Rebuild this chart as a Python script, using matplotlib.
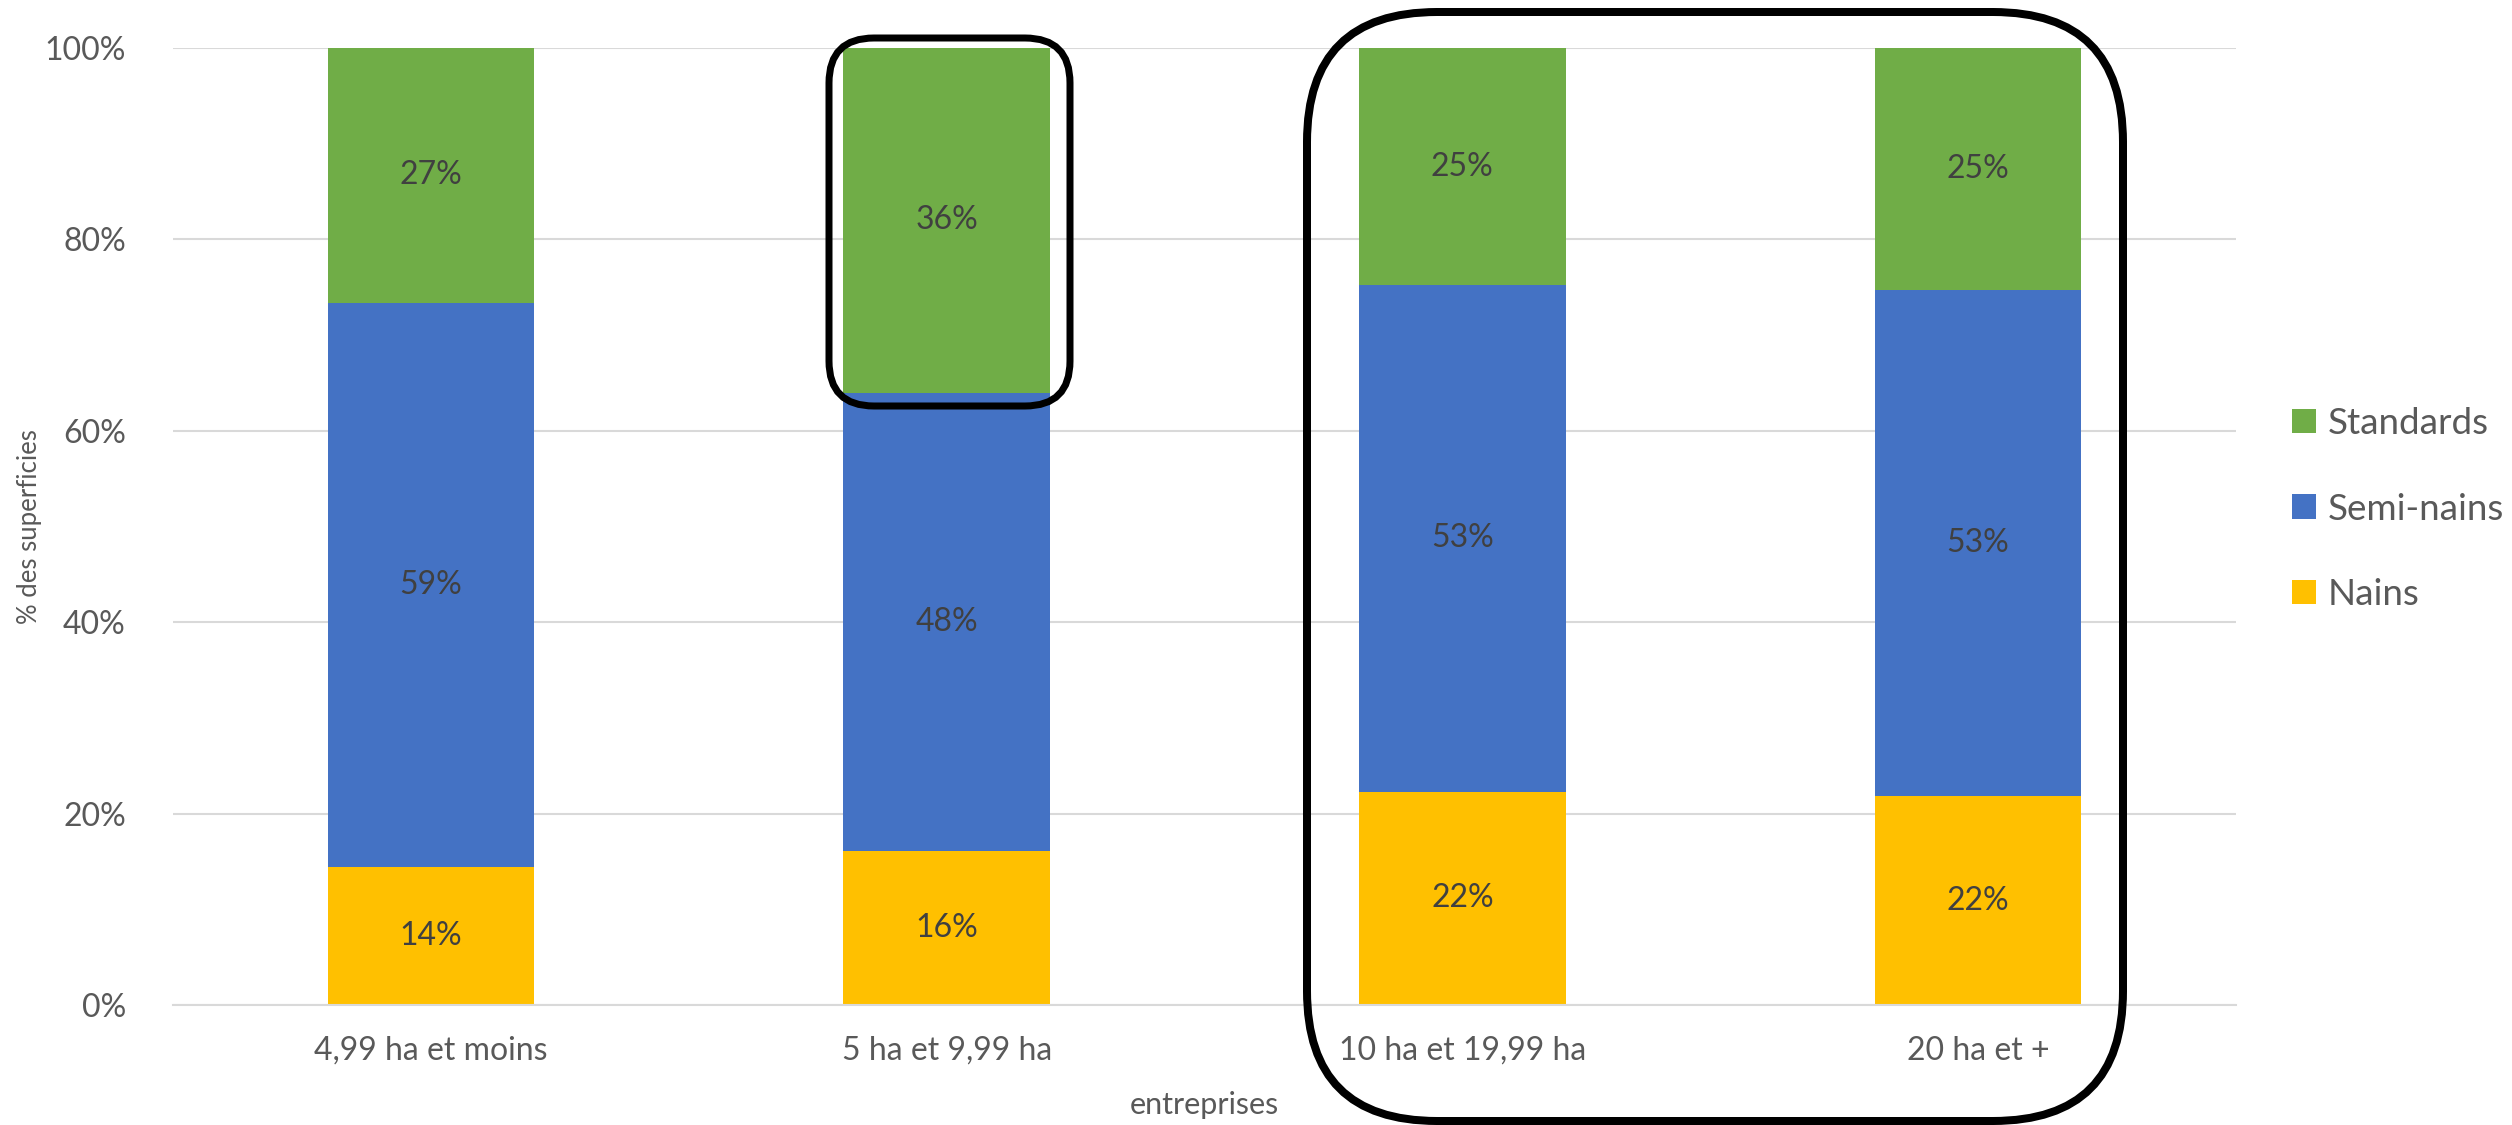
import matplotlib
matplotlib.use("Agg")
import matplotlib.pyplot as plt
from matplotlib.patches import FancyBboxPatch, Patch
import numpy as np

categories = ["4,99 ha et moins", "5 ha et 9,99 ha", "10 ha et 19,99 ha", "20 ha et +"]
nains = [14.4, 16.1, 22.3, 21.8]
semi_nains = [59.0, 47.9, 52.9, 52.9]
standards = [26.6, 36.0, 24.8, 25.3]
series_names = ["Nains", "Semi-nains", "Standards"]
colors = ["#FFC000", "#4472C4", "#70AD47"]
yticks = [0, 20, 40, 60, 80, 100]

plt.rcParams['font.family'] = ['Lato', 'DejaVu Sans']

W, H = 2512, 1125
fig = plt.figure(figsize=(W / 100, H / 100), dpi=100)
ax = fig.add_axes([173 / W, 1 - 1005 / H, (2236 - 173) / W, (1005 - 48) / H])

x = np.arange(len(categories))
bottom = np.zeros(len(categories))
for vals, name, col in zip([nains, semi_nains, standards], series_names, colors):
    vals = np.array(vals)
    ax.bar(x, vals, width=0.4, bottom=bottom, color=col, label=name, zorder=2)
    for xi, b, v in zip(x, bottom, vals):
        ax.text(xi, b + v / 2, f"{round(v):d}%", ha='center', va='center',
                fontsize=23, color='#404040', zorder=3)
    bottom = bottom + vals

ax.set_xlim(-0.5, 3.5)
ax.set_ylim(0, 100)
ax.set_yticks(yticks)
ax.set_yticklabels([f"{t}%" for t in yticks])
ax.set_xticks(x)
ax.set_xticklabels(categories)
ax.tick_params(axis='both', length=0, labelsize=23, colors='#595959')
ax.tick_params(axis='y', pad=34)
ax.tick_params(axis='x', pad=22)
ax.yaxis.grid(True, color='#D9D9D9', linewidth=1.5, zorder=0)
ax.set_axisbelow(True)
for s in ['top', 'right', 'left']:
    ax.spines[s].set_visible(False)
ax.spines['bottom'].set_color('#D9D9D9')
ax.spines['bottom'].set_linewidth(1.5)

ax.set_ylabel("% des superficies", fontsize=18.5, color='#595959')
ax.yaxis.set_label_coords((29.5 - 173) / (2236 - 173), (1005 - 527) / (1005 - 48))
ax.yaxis.label.set_verticalalignment('center')
ax.set_xlabel("entreprises", fontsize=22, color='#595959', labelpad=18)

handles = [Patch(facecolor=c) for c in colors][::-1]
labels = series_names[::-1]
fig.legend(handles, labels, loc='center left',
           bbox_to_anchor=(2259 / W, 1 - 509 / H), frameon=False,
           fontsize=26.5, labelcolor='#595959', handlelength=0.66,
           handleheight=0.64, handletextpad=0.3, labelspacing=1.42)

# highlight boxes (pixel coordinates)
def rbox(x0, y0, x1, y1, r, lw):
    p = FancyBboxPatch((x0, H - y1), x1 - x0, y1 - y0,
                       boxstyle=f"round,pad=0,rounding_size={r}",
                       transform=None, fill=False, edgecolor='black',
                       linewidth=lw * 0.72, zorder=10, clip_on=False)
    fig.add_artist(p)

rbox(829, 38, 1070, 406, 45, 7)
rbox(1307, 12, 2123, 1121, 130, 8)

fig.savefig("out.png", dpi=100)
